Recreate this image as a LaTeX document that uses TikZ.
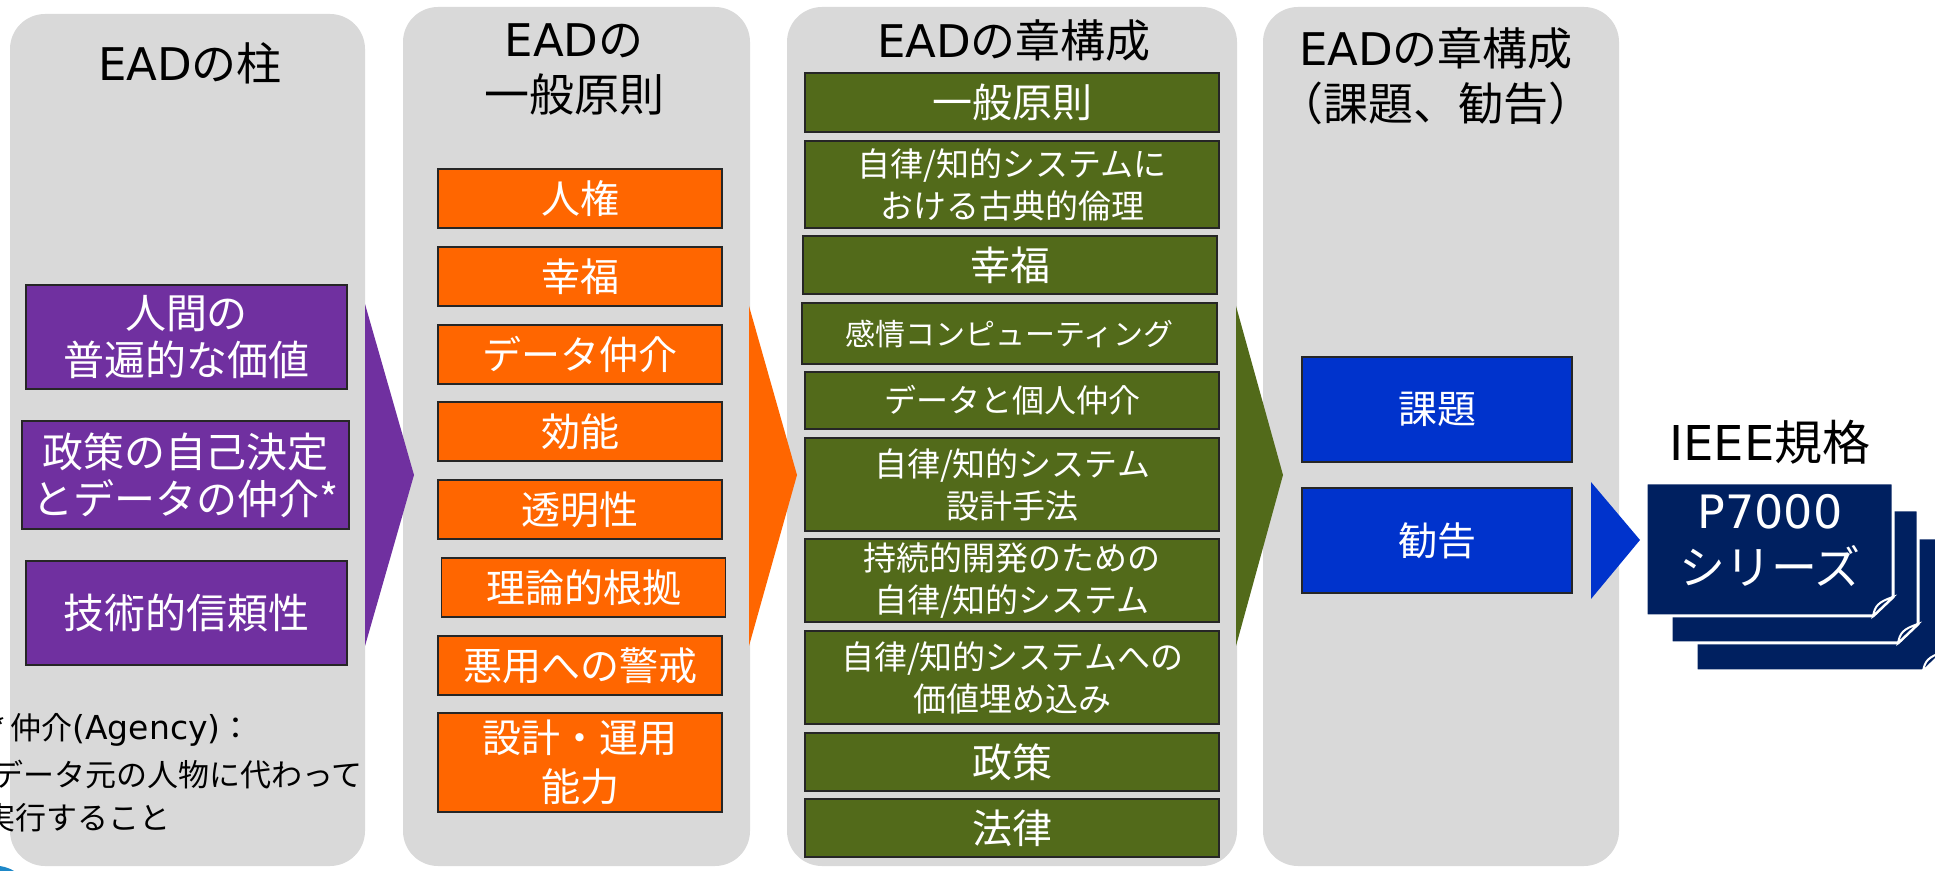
\documentclass[tikz,border=0pt]{standalone}
\usepackage{fontspec}
\setmainfont{Noto Sans CJK JP}
\newfontfamily\vd{DejaVu Sans}
\newcommand\myfs[2]{\fontsize{#1}{#2}\selectfont}
\definecolor{panelgray}{HTML}{D9D9D9}
\definecolor{cpurple}{HTML}{7030A0}
\definecolor{corange}{HTML}{FF6600}
\definecolor{colive}{HTML}{526A1A}
\definecolor{cblue}{HTML}{0033CC}
\definecolor{cnavy}{HTML}{002060}
\definecolor{cteal}{HTML}{1E88C8}
\begin{document}
\begin{tikzpicture}[x=0.5pt,y=-0.5pt,
  panel/.style={fill=panelgray, rounded corners=17.5pt, inner sep=0},
  head/.style={font=\myfs{22.5}{27.5}, align=center, inner sep=0},
  cbox/.style={draw=black!85, line width=0.75pt, text=white, align=center, inner sep=0},
  pbox/.style={cbox, fill=cpurple, font=\myfs{20.5}{23.5}},
  obox/.style={cbox, fill=corange, font=\myfs{19.5}{24.5}, minimum width=142pt, minimum height=29.5pt},
  gbox/.style={cbox, fill=colive, minimum width=207pt},
  gone/.style={gbox, font=\myfs{20}{24}},
  gtwo/.style={gbox, font=\myfs{16.5}{21}},
  bbox/.style={cbox, fill=cblue, font=\myfs{19.5}{24}, minimum width=135pt, minimum height=52.5pt},
  doc/.style={fill=cnavy, draw=white, line width=1.5pt},
  curl/.style={fill=cnavy, draw=white, line width=1pt},
  fnote/.style={anchor=west, inner sep=0, font=\myfs{15.5}{22}}
]
\useasboundingbox (0,0) rectangle (1935,871);
\clip (0,0) rectangle (1935,871);

% panels
\node[panel, minimum width=177.5pt, minimum height=426pt] (pan1) at (187.5,440) {};
\node[panel, minimum width=173.5pt, minimum height=429.5pt] (pan2) at (576.5,436.5) {};
\node[panel, minimum width=225pt, minimum height=429.5pt] (pan3) at (1012,436.5) {};
\node[panel, minimum width=178pt, minimum height=429.5pt] (pan4) at (1441,436.5) {};

% chevron arrows
\fill[cpurple] (365,304) -- (414,475) -- (365,646) -- cycle;
\fill[corange] (749,306) -- (797,475) -- (749,646) -- cycle;
\fill[colive] (1236,306) -- (1283,475) -- (1236,646) -- cycle;
\fill[cblue] (1591,482) -- (1640,540) -- (1591,599) -- cycle;

% headings
\node[head] (h1) at (190,63) {{\vd EAD}の柱};
\node[head] (h2) at (574,69) {{\vd EAD}の\\一般原則};
\node[head] (h3) at (1014,41) {{\vd EAD}の章構成};
\node[head] (h4) at (1436,76) {{\vd EAD}の章構成\\（課題、勧告）};

% pillars
\node[pbox, minimum width=160.5pt, minimum height=52pt] (pa) at (186.5,337) {人間の\\普遍的な価値};
\node[pbox, minimum width=163.5pt, minimum height=54pt] (pb) at (185.5,475) {政策の自己決定\\とデータの仲介*};
\node[pbox, minimum width=160.5pt, minimum height=52pt] (pc) at (186.5,613) {技術的信頼性};

% footnote (cropped at the left edge, as in the reference)
\node[fnote] (fn1) at (10,730) {\llap{*\kern2pt}仲介{\vd\myfs{16.5}{22}(Agency)}：};
\node[fnote] (fn2) at (23,775) {\llap{デ}ータ元の人物に代わって};
\node[fnote] (fn3) at (15,818) {\llap{実}行すること};

% general principles
\node[obox] (o1) at (580,198.5) {人権};
\node[obox] (o2) at (580,276.5) {幸福};
\node[obox] (o3) at (580,354.5) {データ仲介};
\node[obox] (o4) at (580,431.5) {効能};
\node[obox] (o5) at (580,509.5) {透明性};
\node[obox] (o6) at (583.5,587.5) {理論的根拠};
\node[obox] (o7) at (580,665.5) {悪用への警戒};
\node[obox, minimum height=49.5pt] (o8) at (580,762.5) {設計・運用\\能力};

% chapters
\node[gone, minimum height=29.5pt] (g1) at (1012,102.5) {一般原則};
\node[gtwo, minimum height=43.5pt] (g2) at (1012,184.5) {自律/知的システムに\\おける古典的倫理};
\node[gone, minimum height=29pt] (g3) at (1010,265) {幸福};
\node[gbox, font=\myfs{15}{20}, minimum width=207.5pt, minimum height=30.5pt] (g4) at (1009.5,333.5) {感情コンピューティング};
\node[gbox, font=\myfs{16}{20}, minimum height=28.5pt] (g5) at (1012,400.5) {データと個人仲介};
\node[gtwo, minimum height=46.5pt] (g6) at (1012,484.5) {自律/知的システム\\設計手法};
\node[gtwo, minimum height=41.5pt] (g7) at (1012,580.5) {持続的開発のための\\自律/知的システム};
\node[gtwo, minimum height=46.5pt] (g8) at (1012,677.5) {自律/知的システムへの\\価値埋め込み};
\node[gone, minimum height=29pt] (g9) at (1012,762) {政策};
\node[gone, minimum height=29pt] (g10) at (1012,828) {法律};

% issues / recommendations
\node[bbox] (b1) at (1437,409.5) {課題};
\node[bbox] (b2) at (1437,540.5) {勧告};

% IEEE standards
\node[font=\myfs{24}{28}, inner sep=0] (ieee) at (1770,442) {{\vd IEEE}規格};
\draw[doc] (1696,538) -- (1943,538) -- (1943,652) -- (1923,671) -- (1696,671) -- cycle;
\draw[curl] (1923,671) .. controls (1925,661) and (1928,657) .. (1943,652) -- cycle;
\draw[doc] (1671,510) -- (1918,510) -- (1918,624) -- (1898,643) -- (1671,643) -- cycle;
\draw[curl] (1898,643) .. controls (1900,633) and (1903,629) .. (1918,624) -- cycle;
\draw[doc] (1646,483) -- (1893,483) -- (1893,597) -- (1873,616) -- (1646,616) -- cycle;
\draw[curl] (1873,616) .. controls (1875,606) and (1878,602) .. (1893,597) -- cycle;
\node[text=white, align=center, font=\myfs{23}{28}, inner sep=0] (p7) at (1770,540) {{\vd P7000}\\シリーズ};

% cropped decoration at bottom left
\fill[cteal] (0,866) .. controls (6,867) and (11,869) .. (14,871) -- (0,871) -- cycle;
\end{tikzpicture}
\end{document}
